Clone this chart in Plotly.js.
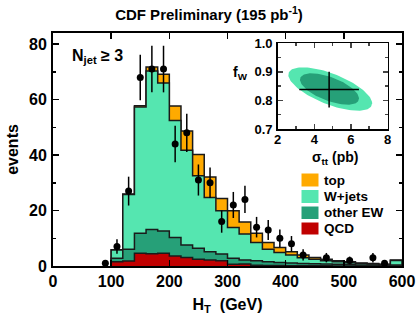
<!DOCTYPE html>
<html><head><meta charset="utf-8">
<script src="https://cdn.plot.ly/plotly-3.0.1.min.js"></script>
<style>html,body{margin:0;padding:0;background:#fff}#plot{width:418px;height:315px}</style>
</head><body><div id="plot"></div>
<script>
// ---- data ----
const binEdges = [100,120,140,160,180,200,220,240,260,280,300,320,340,360,380,400,420,440,460,480,500,520,540,560,580,600];
const qcd      = [1.5,1.8,4.6,4.4,4.6,3.6,3.1,2.4,2.2,1.9,0.6,0.7,0.3,0.2,0.2,0.1,0.1,0.1,0.1,0,0,0,0,0,0];
const otherEW  = [1.3,4.2,7.2,8.8,8.0,6.7,4.5,4.0,2.9,2.4,2.2,1.5,1.6,1.3,1.1,1.0,0.8,0.7,0.6,0.6,0.5,0.4,0.4,0.3,0.4];
const wJets    = [3.0,19.8,45.5,57.1,53.4,42.2,34.1,26.1,19.6,15.6,11.1,9.3,6.6,4.5,3.6,2.9,2.1,1.6,1.2,0.9,0.7,0.5,0.3,0.2,1.6];
const topQuark = [0.1,0.2,0.5,1.4,3.1,5.2,7.0,7.7,7.4,4.4,6.0,4.4,3.3,2.5,1.8,1.1,1.0,0.7,0.5,0.4,0.3,0.2,0.2,0.1,0.2];

const dataHT     = [90,110,130,150,170,190,210,230,250,270,290,310,330,350,370,390,410,430,470,510,550,570];
const dataEvents = [1,7,27,68,71,71,44,48,31,30,16,22,24,14,13,10,8,4,3,2,3,1];
const dataErr    = [1,2.6,5.2,8.2,8.4,8.4,6.6,6.9,5.6,5.5,4,4.7,4.9,3.7,3.6,3.2,2.8,2,1.7,1.4,1.7,1];

const legendNames = ['top','W+jets','other EW','QCD'];

// inset: fit result
const fitSigma = [4.81], fitSigmaErr = [1.63];
const fitFw = [0.838], fitFwErr = [0.0625];
const contourCx   = [4.87, 4.83];
const contourCy   = [0.840, 0.840];
const contourA    = [2.29, 1.61];
const contourB    = [0.076, 0.055];
const contourPhi  = [131, 127];

// ---- styles ----
const C = {top:'#ffaa00', w:'#55e6b0', ew:'#26a078', qcd:'#c00000', line:'#1a1a1a'};
const FONT = 'Liberation Sans, Arial, Helvetica, sans-serif';

// cumulative stacks
function cum(arrs){ return arrs[0].map((_,i)=>arrs.reduce((s,a)=>s+a[i],0)); }
const sQCD = cum([qcd]);
const sEW  = cum([qcd,otherEW]);
const sW   = cum([qcd,otherEW,wJets]);
const sTop = cum([qcd,otherEW,wJets,topQuark]);

function stepTrace(vals, color){
  const xs=[binEdges[0]], ys=[0];
  vals.forEach((v,i)=>{xs.push(binEdges[i]); ys.push(v);});
  xs.push(binEdges[binEdges.length-1]); ys.push(vals[vals.length-1]);
  xs.push(binEdges[binEdges.length-1]); ys.push(0);
  return {x:xs,y:ys,type:'scatter',mode:'lines',line:{shape:'hv',color:C.line,width:1.5},
          fill:'tozeroy',fillcolor:color,showlegend:false,hoverinfo:'skip',xaxis:'x',yaxis:'y'};
}

function ellipse(i,color){
  const xs=[],ys=[],ph=contourPhi[i]*Math.PI/180;
  for(let k=0;k<=120;k++){const t=2*Math.PI*k/120;
    xs.push(contourCx[i]+contourA[i]*Math.cos(t));
    ys.push(contourCy[i]+contourB[i]*Math.cos(t+ph));}
  return {x:xs,y:ys,type:'scatter',mode:'lines',fill:'toself',fillcolor:color,line:{width:0,color:color},
          xaxis:'x2',yaxis:'y2',showlegend:false,hoverinfo:'skip'};
}

const traces = [
  stepTrace(sTop, C.top),
  stepTrace(sW, C.w),
  stepTrace(sEW, C.ew),
  stepTrace(sQCD, C.qcd),
  {x:dataHT,y:dataEvents,type:'scatter',mode:'markers',marker:{color:'#000',size:7},
   error_y:{type:'data',array:dataErr,visible:true,color:'#000',thickness:1.5,width:0},showlegend:false},
  ellipse(0, C.w),
  ellipse(1, C.ew),
  {x:fitSigma,y:fitFw,type:'scatter',mode:'markers',marker:{size:1,color:'#000'},
   error_x:{type:'data',array:fitSigmaErr,color:'#000',thickness:1.5,width:0},
   error_y:{type:'data',array:fitFwErr,color:'#000',thickness:1.5,width:0},
   xaxis:'x2',yaxis:'y2',showlegend:false}
];

// pixel -> paper helpers (plot area 53..402 x 33..266)
const PX0=53,PX1=402,PY0=266,PY1=33;
const fx = p=>(p-PX0)/(PX1-PX0), fy = p=>(PY0-p)/(PY0-PY1);

const legendColors=[C.top,C.w,C.ew,C.qcd];
const legendRows=[[173.5,186.5],[190,203],[206.5,219],[222.5,234.5]];
const shapes=[], annotations=[];
legendRows.forEach((r,i)=>{
  shapes.push({type:'rect',xref:'paper',yref:'paper',x0:fx(301.5),x1:fx(318.5),y0:fy(r[1]),y1:fy(r[0]),
               fillcolor:legendColors[i],line:{width:0}});
  annotations.push({xref:'paper',yref:'paper',x:fx(322),y:fy((r[0]+r[1])/2),xanchor:'left',yanchor:'middle',
               text:legendNames[i],showarrow:false,font:{family:FONT,size:13.5,weight:'bold',color:'#000'}});
});
annotations.push({xref:'paper',yref:'paper',x:fx(70),y:fy(57),xanchor:'left',yanchor:'middle',showarrow:false,
  text:'N<sub>jet</sub> ≥ 3',font:{family:FONT,size:16,weight:'bold',color:'#000'}});
annotations.push({xref:'paper',yref:'paper',x:fx(240),y:fy(73),xanchor:'center',yanchor:'middle',showarrow:false,
  text:'f<sub>W</sub>',font:{family:FONT,size:14,weight:'bold',color:'#000'}});
annotations.push({xref:'paper',yref:'paper',x:fx(335),y:fy(158),xanchor:'center',yanchor:'middle',showarrow:false,
  text:'σ<sub>tt</sub> (pb)',font:{family:FONT,size:14,weight:'bold',color:'#000'}});

const axFont={family:FONT,size:16,weight:'bold',color:'#000'};
const inFont={family:FONT,size:13,weight:'bold',color:'#000'};

const layout = {
  width:418,height:315,margin:{l:53,r:16,t:33,b:49},
  paper_bgcolor:'#fff',plot_bgcolor:'#fff',showlegend:false,
  title:{text:'CDF Preliminary (195 pb<sup>-1</sup>)',x:0.5,xanchor:'center',yref:'container',y:0.952,yanchor:'middle',
         font:{family:FONT,size:15,weight:'bold',color:'#000'}},
  xaxis:{range:[0,600],dtick:100,tick0:0,ticks:'inside',ticklen:6,tickwidth:1.5,tickcolor:'#000',
         showline:true,linewidth:2,linecolor:'#000',mirror:'allticks',showgrid:false,zeroline:false,
         tickfont:axFont,domain:[0,1],
         title:{text:'H<sub>T</sub>  (GeV)',font:{family:FONT,size:16,weight:'bold',color:'#000'},standoff:10}},
  yaxis:{range:[0,84],dtick:20,tick0:0,ticks:'inside',ticklen:6,tickwidth:1.5,tickcolor:'#000',
         minor:{dtick:10,ticks:'inside',ticklen:3,tickwidth:1.5,tickcolor:'#000'},
         showline:true,linewidth:2,linecolor:'#000',mirror:'allticks',showgrid:false,zeroline:false,
         tickfont:axFont,domain:[0,1],ticklabelstandoff:1,
         title:{text:'events',font:{family:FONT,size:16,weight:'bold',color:'#000'},standoff:6}},
  xaxis2:{domain:[fx(277.7),fx(387.5)],anchor:'y2',range:[2,8],dtick:2,ticks:'inside',ticklen:5,tickwidth:1.5,
          minor:{dtick:1,ticks:'inside',ticklen:3},ticklabelstandoff:-2,
          showline:true,linewidth:1.5,linecolor:'#000',mirror:'allticks',showgrid:false,zeroline:false,tickfont:inFont},
  yaxis2:{domain:[fy(129),fy(43.3)],anchor:'x2',range:[0.7,1.0],dtick:0.1,tickformat:'.1f',ticks:'inside',ticklen:5,tickwidth:1.5,
          minor:{dtick:0.05,ticks:'inside',ticklen:3},
          showline:true,linewidth:1.5,linecolor:'#000',mirror:'allticks',showgrid:false,zeroline:false,tickfont:inFont,ticklabelstandoff:1},
  shapes:shapes,annotations:annotations
};
Plotly.newPlot('plot',traces,layout,{staticPlot:true,displayModeBar:false});
</script></body></html>
